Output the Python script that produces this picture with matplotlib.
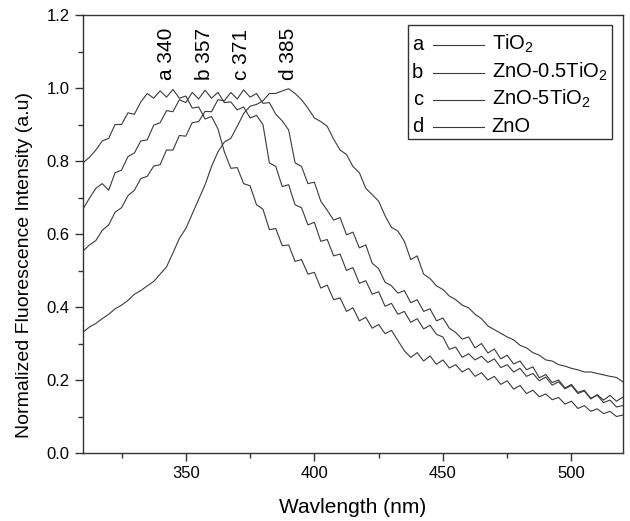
import numpy as np
import matplotlib.pyplot as plt
from matplotlib.patches import Rectangle

plt.rcParams['font.family'] = ['Liberation Sans', 'DejaVu Sans']
plt.rcParams['mathtext.fontset'] = 'custom'
plt.rcParams['mathtext.rm'] = 'Liberation Sans'
plt.rcParams['mathtext.default'] = 'regular'

# wavelength grid (nm), values every 2.5 nm
wavelength = np.arange(310, 520.1, 2.5)

tio2 = [0.795, 0.810, 0.830, 0.855, 0.862, 0.900, 0.900, 0.932, 0.928, 0.962,
        0.985, 0.972, 0.992, 0.975, 0.996, 0.972, 0.978, 0.945, 0.948, 0.915,
        0.922, 0.888, 0.825, 0.780, 0.782, 0.738, 0.732, 0.680, 0.668, 0.612,
        0.615, 0.568, 0.570, 0.525, 0.530, 0.490, 0.495, 0.452, 0.460, 0.420,
        0.425, 0.388, 0.398, 0.362, 0.372, 0.342, 0.352, 0.327, 0.336, 0.308,
        0.280, 0.262, 0.275, 0.252, 0.266, 0.243, 0.255, 0.233, 0.242, 0.222,
        0.232, 0.210, 0.220, 0.200, 0.210, 0.188, 0.198, 0.175, 0.185, 0.163,
        0.172, 0.154, 0.162, 0.146, 0.152, 0.134, 0.142, 0.122, 0.130, 0.114,
        0.121, 0.108, 0.114, 0.100, 0.104]

zno_05tio2 = [0.668, 0.698, 0.725, 0.738, 0.720, 0.768, 0.775, 0.812, 0.822, 0.855,
              0.858, 0.898, 0.905, 0.938, 0.935, 0.968, 0.960, 0.988, 0.970, 0.994,
              0.972, 0.988, 0.960, 0.962, 0.940, 0.948, 0.918, 0.925, 0.900, 0.795,
              0.785, 0.730, 0.735, 0.680, 0.672, 0.625, 0.632, 0.580, 0.585, 0.540,
              0.545, 0.500, 0.508, 0.465, 0.472, 0.435, 0.442, 0.402, 0.410, 0.380,
              0.388, 0.358, 0.368, 0.340, 0.350, 0.325, 0.318, 0.284, 0.290, 0.262,
              0.272, 0.255, 0.265, 0.248, 0.258, 0.234, 0.242, 0.222, 0.232, 0.210,
              0.218, 0.198, 0.208, 0.186, 0.195, 0.176, 0.185, 0.163, 0.170, 0.148,
              0.160, 0.145, 0.158, 0.142, 0.153]

zno_5tio2 = [0.553, 0.570, 0.582, 0.610, 0.625, 0.660, 0.672, 0.705, 0.720, 0.752,
             0.758, 0.786, 0.790, 0.830, 0.830, 0.870, 0.868, 0.905, 0.908, 0.936,
             0.935, 0.968, 0.965, 0.988, 0.970, 0.995, 0.975, 0.985, 0.958, 0.960,
             0.928, 0.910, 0.885, 0.795, 0.785, 0.738, 0.742, 0.690, 0.665, 0.638,
             0.645, 0.598, 0.605, 0.562, 0.570, 0.520, 0.505, 0.468, 0.458, 0.438,
             0.445, 0.412, 0.420, 0.388, 0.395, 0.362, 0.370, 0.342, 0.330, 0.312,
             0.318, 0.288, 0.300, 0.274, 0.285, 0.258, 0.268, 0.244, 0.252, 0.228,
             0.236, 0.206, 0.215, 0.193, 0.200, 0.178, 0.188, 0.166, 0.172, 0.150,
             0.158, 0.138, 0.145, 0.126, 0.130]

zno = [0.331, 0.345, 0.355, 0.368, 0.380, 0.395, 0.405, 0.418, 0.435, 0.445,
       0.458, 0.470, 0.490, 0.510, 0.548, 0.588, 0.615, 0.655, 0.695, 0.735,
       0.785, 0.825, 0.852, 0.862, 0.895, 0.930, 0.950, 0.955, 0.965, 0.985,
       0.985, 0.992, 0.998, 0.985, 0.968, 0.945, 0.918, 0.908, 0.895, 0.860,
       0.830, 0.818, 0.785, 0.768, 0.725, 0.708, 0.690, 0.650, 0.618, 0.608,
       0.580, 0.530, 0.540, 0.490, 0.478, 0.458, 0.448, 0.430, 0.420, 0.405,
       0.398, 0.380, 0.368, 0.348, 0.338, 0.328, 0.318, 0.310, 0.295, 0.288,
       0.275, 0.268, 0.255, 0.252, 0.242, 0.238, 0.232, 0.228, 0.222, 0.222,
       0.218, 0.214, 0.210, 0.207, 0.195]

series = [tio2, zno_05tio2, zno_5tio2, zno]
letters = ['a', 'b', 'c', 'd']
names = ['TiO$_2$', 'ZnO-0.5TiO$_2$', 'ZnO-5TiO$_2$', 'ZnO']
peak_labels = ['a 340', 'b 357', 'c 371', 'd 385']
peak_label_x = [342.6, 357.3, 371.7, 390.0]

line_color = '#3a3a3a'

fig = plt.figure(figsize=(6.3, 5.21), dpi=100)
ax = fig.add_axes([0.1317, 0.1305, 0.857, 0.8407])

for values in series:
    ax.plot(wavelength, values, color=line_color, lw=0.8)

for lab, x in zip(peak_labels, peak_label_x):
    ax.text(x, 1.022, lab, rotation=90, ha='center', va='bottom', fontsize=15)

ax.set_xlim(310, 520)
ax.set_ylim(0, 1.2)
ax.set_xticks([350, 400, 450, 500])
ax.set_xticks([325, 375, 425, 475], minor=True)
ax.set_yticks(np.arange(0, 1.21, 0.2))
ax.set_yticks(np.arange(0.1, 1.2, 0.2), minor=True)
ax.set_yticklabels([f"{v:.1f}" for v in np.arange(0, 1.21, 0.2)])
ax.tick_params(which='major', direction='out', length=6, width=1, labelsize=12, color='#333333')
ax.tick_params(which='minor', direction='out', length=3.5, width=1, color='#333333')
for sp in ax.spines.values():
    sp.set_linewidth(1)
    sp.set_color('#333333')

ax.set_xlabel('Wavlength (nm)', fontsize=15, labelpad=12)
ax.set_ylabel('Normalized Fluorescence Intensity (a.u)', fontsize=14)
ax.yaxis.set_label_coords(-0.092, 0.43)

# hand-drawn style legend: letter, short line, sample name
ax.add_patch(Rectangle((0.602, 0.717), 0.378, 0.26, transform=ax.transAxes,
                       fill=False, lw=1, ec='#333333'))
row_base = [0.920, 0.856, 0.795, 0.733]
for letter, name, yb in zip(letters, names, row_base):
    ax.text(0.62, yb, letter, transform=ax.transAxes, ha='center', va='baseline', fontsize=14.5)
    ax.plot([0.649, 0.743], [yb + 0.012, yb + 0.012], transform=ax.transAxes,
            color=line_color, lw=0.8)
    ax.text(0.757, yb, name, transform=ax.transAxes, ha='left', va='baseline', fontsize=14.5)

fig.savefig('out.png', dpi=100)
